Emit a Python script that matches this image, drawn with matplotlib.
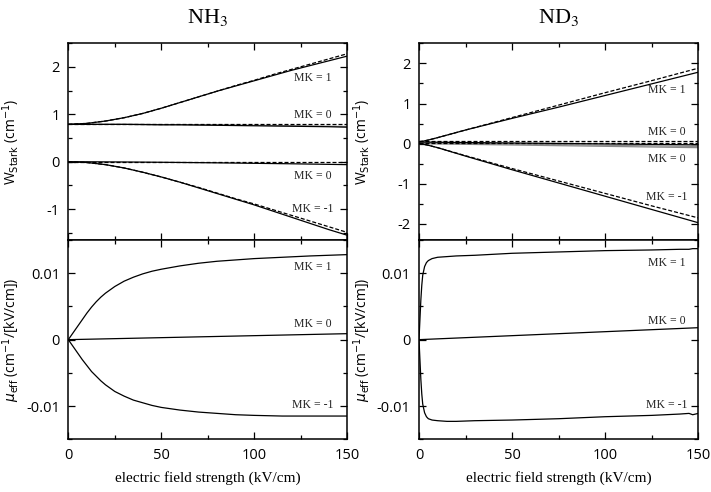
import matplotlib
matplotlib.use('Agg')
import matplotlib.pyplot as plt
from matplotlib.ticker import MultipleLocator, NullFormatter, FuncFormatter

plt.rcParams['font.family'] = ['Open Sans', 'DejaVu Sans']
plt.rcParams['axes.unicode_minus'] = False

# ---------------- data ----------------
# NH3, Stark energies (cm^-1)
F_nh3_w = [0, 10, 20, 30, 40, 50, 60, 70, 80, 90, 100, 110, 120, 130, 140, 150]
nh3_mk1_solid = [0.79, 0.81, 0.86, 0.93, 1.02, 1.13, 1.25, 1.37, 1.49, 1.60, 1.71, 1.82, 1.93, 2.03, 2.13, 2.23]
nh3_mk1_dash = [0.79, 0.81, 0.86, 0.93, 1.02, 1.13, 1.25, 1.37, 1.49, 1.61, 1.72, 1.84, 1.95, 2.06, 2.17, 2.28]
nh3_mk0u_solid = [0.79, 0.79, 0.79, 0.79, 0.785, 0.78, 0.78, 0.775, 0.77, 0.765, 0.76, 0.755, 0.75, 0.745, 0.74, 0.73]
nh3_mk0u_grey = [0.79, 0.79, 0.79, 0.79, 0.79, 0.785, 0.785, 0.78, 0.78, 0.775, 0.77, 0.765, 0.76, 0.755, 0.75, 0.745]
nh3_mk0l_solid = [0, 0, -0.002, -0.004, -0.007, -0.01, -0.014, -0.018, -0.022, -0.027, -0.032, -0.037, -0.042, -0.048, -0.054, -0.06]
nh3_mkm1_solid = [0, -0.015, -0.06, -0.13, -0.22, -0.32, -0.43, -0.55, -0.67, -0.79, -0.91, -1.04, -1.17, -1.30, -1.43, -1.55]
nh3_mkm1_dash = [0, -0.015, -0.06, -0.13, -0.22, -0.32, -0.43, -0.54, -0.66, -0.78, -0.89, -1.01, -1.13, -1.25, -1.37, -1.49]
F_flat = [0, 150]
nh3_mk0u_dash = [0.80, 0.80]
nh3_mk0l_dash = [0.005, 0.005]

# ND3, Stark energies (cm^-1)
F_nd3_w = [0, 2, 5, 10, 25, 50, 75, 100, 125, 150]
nd3_mk1_solid = [0.05, 0.06, 0.09, 0.15, 0.34, 0.63, 0.91, 1.20, 1.49, 1.78]
nd3_mk1_dash = [0.05, 0.06, 0.09, 0.15, 0.34, 0.65, 0.96, 1.27, 1.57, 1.88]
nd3_mkm1_solid = [0.0, -0.01, -0.04, -0.10, -0.31, -0.65, -0.98, -1.31, -1.64, -1.97]
nd3_mkm1_dash = [0.0, -0.01, -0.04, -0.10, -0.30, -0.62, -0.93, -1.24, -1.55, -1.85]
nd3_mk0u_dash = [0.055, 0.055]
nd3_mk0l_dash = [0.02, 0.02]
nd3_mk0_solid = [0.04, -0.03]
nd3_mk0_grey1 = [0.02, -0.07]
nd3_mk0_grey2 = [0.0, -0.10]

# NH3 effective dipole moment (cm^-1/[kV/cm])
F_nh3_mu = [0, 2.5, 5, 7.5, 10, 12.5, 15, 17.5, 20, 25, 30, 35, 40, 45, 50, 60, 70, 80, 90, 100, 115, 130, 150]
nh3_mu_mk1 = [0, 0.0010, 0.0020, 0.0030, 0.0040, 0.0049, 0.0057, 0.0064, 0.0070, 0.0080, 0.0088, 0.0094,
              0.0099, 0.0103, 0.0106, 0.0111, 0.0115, 0.0118, 0.0120, 0.0122, 0.0124, 0.0126, 0.0128]
nh3_mu_mkm1 = [0, -0.0010, -0.0020, -0.0030, -0.0039, -0.0048, -0.0055, -0.0062, -0.0068, -0.0078, -0.0085, -0.0091,
               -0.0095, -0.0099, -0.0102, -0.0106, -0.0109, -0.0111, -0.0113, -0.0114, -0.0115, -0.0115, -0.0115]
nh3_mu_mk0 = [0, 0.0009]

# ND3 effective dipole moment
F_nd3_mu = [0, 0.5, 1, 1.5, 2, 3, 4, 5, 7, 10, 15, 20, 30, 50, 75, 100, 125, 140, 145, 147, 150]
nd3_mu_mk1 = [0, 0.0030, 0.0060, 0.0082, 0.0097, 0.0110, 0.0116, 0.0119, 0.0122, 0.0124, 0.0125, 0.0126, 0.0127,
              0.0130, 0.0132, 0.0134, 0.0135, 0.0136, 0.0136, 0.0137, 0.0137]
nd3_mu_mkm1 = [0, -0.0030, -0.0060, -0.0082, -0.0097, -0.0110, -0.0116, -0.0119, -0.0121, -0.0122, -0.0123, -0.0123,
               -0.0122, -0.0121, -0.0119, -0.0116, -0.0114, -0.0112, -0.0111, -0.0113, -0.0111]
nd3_mu_mk0 = [0, 0.0018]

# label texts / heights
mk_texts_top = ['MK = 1', 'MK = 0', 'MK = 0', 'MK = -1']
nh3_top_label_y = [1.76, 0.98, -0.29, -0.99]
nd3_top_label_y = [1.34, 0.29, -0.37, -1.32]
mk_texts_bot = ['MK = 1', 'MK = 0', 'MK = -1']
nh3_bot_label_y = [0.0110, 0.0023, -0.0099]
nd3_bot_label_y = [0.0116, 0.0028, -0.0099]

# ---------------- figure ----------------
W, H = 711, 492
fig = plt.figure(figsize=(W / 100, H / 100), dpi=100)

def ax_rect(x0, x1, ytop, ybot):
    return [x0 / W, 1 - ybot / H, (x1 - x0) / W, (ybot - ytop) / H]

axL_t = fig.add_axes(ax_rect(68.3, 347.3, 43.3, 240))
axL_b = fig.add_axes(ax_rect(68.3, 347.3, 240, 439.3))
axR_t = fig.add_axes(ax_rect(419, 698.3, 43.3, 240))
axR_b = fig.add_axes(ax_rect(419, 698.3, 240, 439.3))

lw = 0.9
dash = (0, (3.2, 1.6))
grey = '#8a8a8a'
serif = ['Liberation Serif', 'DejaVu Serif']

def style(ax, top):
    ax.set_xlim(0, 150)
    ax.xaxis.set_major_locator(MultipleLocator(50))
    ax.xaxis.set_minor_locator(MultipleLocator(25))
    ax.tick_params(which='both', direction='in', top=True, right=True,
                   labelsize=10.5, colors='black', width=0.9)
    ax.tick_params(which='major', length=5, pad=6)
    ax.tick_params(which='minor', length=3)
    for s in ax.spines.values():
        s.set_linewidth(1.1)
    if top:
        ax.xaxis.set_major_formatter(NullFormatter())
    else:
        ax.set_xlabel('electric field strength (kV/cm)', fontfamily=serif,
                      fontsize=11, labelpad=6)

# NH3 top
ax = axL_t
ax.plot(F_nh3_w, nh3_mk0u_grey, color=grey, lw=lw)
ax.plot(F_nh3_w, nh3_mk1_solid, color='black', lw=lw)
ax.plot(F_nh3_w, nh3_mk1_dash, color='black', lw=lw, ls=dash)
ax.plot(F_nh3_w, nh3_mk0u_solid, color='black', lw=lw)
ax.plot(F_flat, nh3_mk0u_dash, color='black', lw=lw, ls=dash)
ax.plot(F_nh3_w, nh3_mk0l_solid, color='black', lw=lw)
ax.plot(F_flat, nh3_mk0l_dash, color='black', lw=lw, ls=dash)
ax.plot(F_nh3_w, nh3_mkm1_solid, color='black', lw=lw)
ax.plot(F_nh3_w, nh3_mkm1_dash, color='black', lw=lw, ls=dash)
ax.set_ylim(-1.65, 2.5)
ax.yaxis.set_major_locator(MultipleLocator(1))
ax.yaxis.set_minor_locator(MultipleLocator(0.5))

# ND3 top
ax = axR_t
ax.plot(F_flat, nd3_mk0_grey1, color=grey, lw=lw)
ax.plot(F_flat, nd3_mk0_grey2, color=grey, lw=lw)
ax.plot(F_nd3_w, nd3_mk1_solid, color='black', lw=lw)
ax.plot(F_nd3_w, nd3_mk1_dash, color='black', lw=lw, ls=dash)
ax.plot(F_flat, nd3_mk0u_dash, color='black', lw=lw, ls=dash)
ax.plot(F_flat, nd3_mk0l_dash, color='black', lw=lw, ls=dash)
ax.plot(F_flat, nd3_mk0_solid, color='black', lw=lw)
ax.plot(F_nd3_w, nd3_mkm1_solid, color='black', lw=lw)
ax.plot(F_nd3_w, nd3_mkm1_dash, color='black', lw=lw, ls=dash)
ax.set_ylim(-2.4, 2.5)
ax.yaxis.set_major_locator(MultipleLocator(1))
ax.yaxis.set_minor_locator(MultipleLocator(0.5))

# NH3 bottom
ax = axL_b
ax.plot(F_nh3_mu, nh3_mu_mk1, color='black', lw=lw)
ax.plot(F_flat, nh3_mu_mk0, color='black', lw=lw)
ax.plot(F_nh3_mu, nh3_mu_mkm1, color='black', lw=lw)

# ND3 bottom
ax = axR_b
ax.plot(F_nd3_mu, nd3_mu_mk1, color='black', lw=lw)
ax.plot(F_flat, nd3_mu_mk0, color='black', lw=lw)
ax.plot(F_nd3_mu, nd3_mu_mkm1, color='black', lw=lw)

for ax in (axL_b, axR_b):
    ax.set_ylim(-0.015, 0.015)
    ax.yaxis.set_major_locator(MultipleLocator(0.01))
    ax.yaxis.set_minor_locator(MultipleLocator(0.005))
    ax.yaxis.set_major_formatter(FuncFormatter(
        lambda v, p: '0' if abs(v) < 1e-9 else ('%g' % v)))

for ax in (axL_t, axR_t):
    style(ax, True)
    ax.set_ylabel(r'W$_{\mathrm{Stark}}$ (cm$^{-1}$)', fontsize=10,
                  math_fontfamily='dejavusans')
for ax in (axL_b, axR_b):
    style(ax, False)
    ax.set_ylabel(r'$\mu_{\mathrm{eff}}$ (cm$^{-1}$/[kV/cm])', fontsize=10,
                  math_fontfamily='dejavusans')

for ax in (axL_t, axL_b, axR_t, axR_b):
    ax.yaxis.set_label_coords(-0.165, 0.5)

# MK labels
def mk_labels(ax, ys, texts, x):
    for y, t in zip(ys, texts):
        ax.text(x, y, t, fontfamily=serif, fontsize=8.5, color='#222222',
                ha='center', va='center')

mk_labels(axL_t, nh3_top_label_y, mk_texts_top, 131.5)
mk_labels(axR_t, nd3_top_label_y, mk_texts_top, 133)
mk_labels(axL_b, nh3_bot_label_y, mk_texts_bot, 131.5)
mk_labels(axR_b, nd3_bot_label_y, mk_texts_bot, 133)

# titles
fig.text(208 / W, 1 - 17 / H, 'NH$_3$', fontfamily=serif, fontsize=16,
         math_fontfamily='stix', ha='center', va='center')
fig.text(559 / W, 1 - 17 / H, 'ND$_3$', fontfamily=serif, fontsize=16,
         math_fontfamily='stix', ha='center', va='center')

fig.savefig('out.png', dpi=100)
